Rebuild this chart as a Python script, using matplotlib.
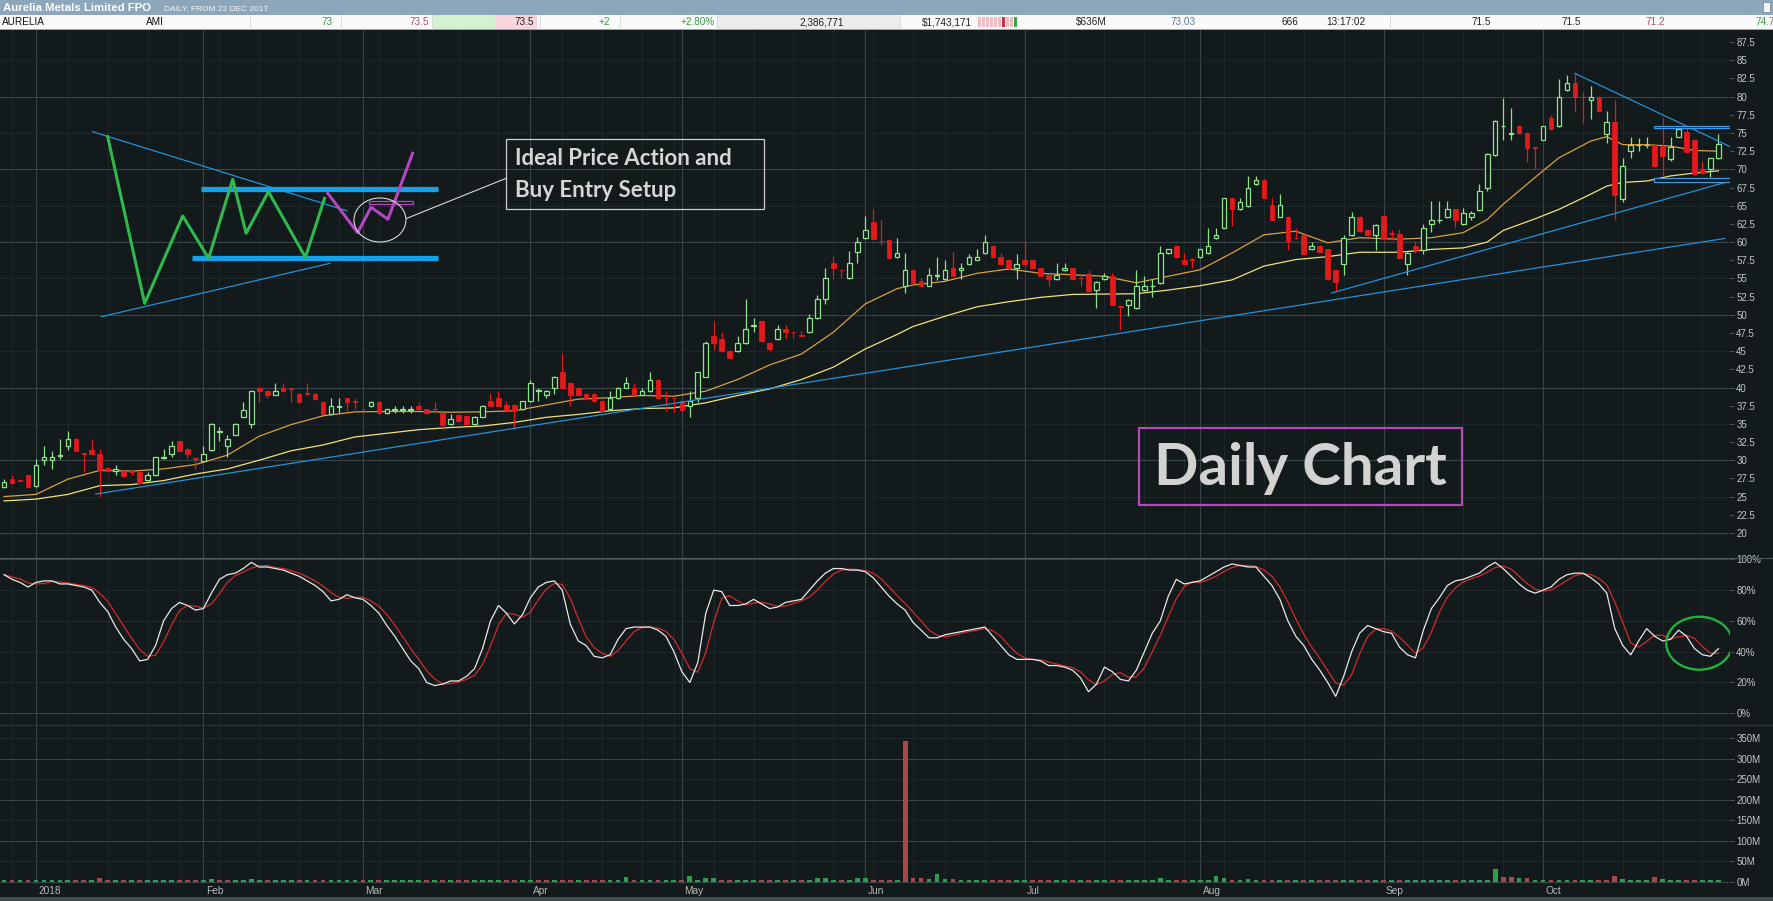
import numpy as np
import pandas as pd
import matplotlib
matplotlib.use("Agg")
import matplotlib.pyplot as plt
from matplotlib.patches import Rectangle, Ellipse
from matplotlib.lines import Line2D
from matplotlib.ticker import FuncFormatter
from matplotlib.transforms import blended_transform_factory

plt.rcParams['font.family'] = ['Liberation Sans', 'DejaVu Sans']

# ------------------------------------------------------------------ data
start_date = '2017-12-22'
end_date = '2018-10-31'
asx_holidays = ['2017-12-25', '2017-12-26', '2018-01-01', '2018-01-26',
                '2018-03-30', '2018-04-02', '2018-04-25', '2018-06-11']

open_ = [26.3,27.4,27.3,27.9,26.4,30.0,30.0,30.6,32.0,32.9,
         31.0,31.4,30.9,28.9,28.5,28.5,28.5,28.4,27.3,27.9,
         30.3,30.9,32.6,31.6,30.3,29.9,31.4,33.9,32.0,33.5,
         36.0,35.0,40.0,39.5,39.0,40.0,39.9,39.1,39.2,39.1,
         38.0,36.4,37.3,38.5,38.1,37.1,37.4,38.0,36.5,36.9,
         36.9,36.9,37.4,37.0,37.1,36.5,35.0,36.2,36.1,35.0,
         36.0,38.1,38.5,37.6,37.6,37.0,38.1,39.5,39.0,40.0,
         42.2,40.6,40.0,39.1,39.1,38.2,37.0,38.5,40.0,40.0,
         39.0,39.5,41.1,38.6,38.6,38.1,37.5,38.5,41.5,47.1,
         46.7,45.0,45.0,46.1,48.5,49.1,46.1,46.7,48.0,47.7,
         47.2,47.6,49.5,52.2,57.1,56.2,55.0,58.6,60.5,62.7,
         60.2,60.3,57.9,54.0,56.1,54.6,54.0,55.4,54.9,56.4,
         56.1,57.0,57.6,58.5,59.5,57.9,57.6,56.4,57.6,57.6,
         56.4,55.5,54.9,56.1,56.4,55.1,55.6,53.4,54.9,55.3,
         51.2,51.4,50.9,53.4,53.9,54.4,58.5,59.5,57.6,57.7,
         57.9,58.5,60.5,62.0,66.0,64.5,64.9,68.0,68.6,65.1,
         63.5,63.5,60.6,61.0,59.0,59.5,59.0,56.1,57.0,61.0,
         63.5,61.6,61.0,63.6,61.2,61.1,57.0,59.5,58.9,62.5,
         63.0,63.4,64.5,62.5,63.4,64.4,67.5,72.0,75.9,74.9,
         76.0,75.0,73.1,74.1,77.0,75.9,80.9,81.9,80.0,79.5,
         80.0,74.9,76.5,65.9,72.5,73.3,73.3,73.4,73.2,71.4,
         74.5,75.1,74.1,70.0,70.0,71.5]
high = [27.4,27.9,27.4,28.0,30.1,31.9,31.2,32.9,34.0,33.0,
        31.0,32.9,31.6,29.0,29.4,28.6,28.6,28.5,28.4,30.5,
        31.5,32.6,32.7,31.7,30.5,32.0,35.1,34.5,33.5,35.1,
        38.0,39.6,40.1,39.6,40.6,40.6,39.9,39.2,40.6,39.2,
        38.1,38.5,38.5,38.6,38.5,37.1,38.1,38.1,37.1,37.5,
        37.5,37.5,38.0,37.1,38.0,36.6,36.4,36.3,36.2,36.1,
        37.6,39.3,39.5,38.2,37.7,38.2,41.1,40.0,39.6,41.6,
        44.8,40.7,40.1,39.2,39.2,38.3,39.5,40.1,41.5,40.6,
        40.0,42.1,41.2,39.5,38.6,38.2,39.5,42.2,46.4,49.2,
        47.6,45.1,47.1,52.2,49.6,49.2,46.2,48.6,48.6,47.7,
        47.8,50.1,52.7,56.5,58.1,56.2,58.8,60.7,63.6,64.5,
        63.1,60.4,60.5,58.5,56.2,55.1,56.4,57.9,57.6,58.6,
        57.1,58.3,59.0,61.0,59.6,58.5,57.7,58.4,60.1,57.7,
        56.5,55.6,57.1,57.1,56.5,55.6,56.2,54.6,55.8,55.8,
        51.3,52.2,56.1,55.4,54.9,59.4,59.1,59.6,58.5,57.8,
        59.1,62.0,62.0,66.1,66.1,66.0,69.1,69.1,68.7,66.0,
        66.6,63.6,61.9,61.1,60.0,59.6,59.1,56.2,61.0,64.1,
        63.6,61.7,62.5,63.7,61.6,61.8,58.6,60.1,62.5,65.6,
        65.6,65.6,64.6,64.7,64.3,68.0,72.2,76.8,79.8,78.4,
        76.1,75.1,73.1,76.0,77.5,82.4,83.0,83.2,80.7,81.4,
        80.1,78.0,79.6,71.6,74.5,74.3,74.5,73.5,77.0,74.5,
        75.6,75.9,74.2,71.1,71.6,74.8]
low = [26.2,26.7,27.1,26.2,26.3,29.3,28.8,30.2,31.4,31.2,
       28.4,30.8,24.9,28.4,27.9,27.7,28.0,26.7,27.2,27.8,
       30.2,30.5,31.2,30.3,28.8,29.8,31.3,32.6,30.5,33.4,
       35.9,34.4,38.0,38.6,38.9,39.4,38.0,37.9,39.0,38.3,
       36.3,36.3,36.5,36.7,37.0,36.8,37.3,36.4,36.4,36.5,
       36.5,36.5,36.9,36.4,36.5,34.1,34.9,35.3,34.9,34.9,
       35.9,37.4,37.4,36.8,34.3,36.9,38.0,38.1,38.5,39.1,
       39.9,37.5,38.9,38.3,38.0,36.7,36.9,38.4,39.9,38.9,
       38.9,39.4,38.4,36.8,36.6,36.8,35.9,38.0,41.4,45.1,
       44.9,43.9,44.9,46.0,47.6,46.3,45.0,46.6,46.7,46.8,
       47.1,47.5,49.4,51.5,54.9,55.0,54.9,57.1,60.4,60.3,
       59.6,57.7,57.8,53.0,54.3,53.9,53.9,54.8,54.8,55.3,
       54.9,56.9,57.5,58.4,57.8,56.9,56.3,54.9,56.9,56.3,
       55.3,53.9,54.8,56.0,54.8,53.9,53.2,50.9,54.8,51.3,
       47.9,49.9,50.8,53.3,52.5,54.3,58.4,57.8,56.9,56.4,
       57.8,58.4,60.4,61.9,62.2,64.4,64.8,67.9,65.9,62.9,
       63.4,58.9,60.4,58.3,58.9,58.6,54.8,53.3,55.5,60.9,
       61.4,60.9,58.9,60.3,60.3,57.7,55.5,58.5,58.4,61.4,
       62.6,63.3,61.9,62.4,63.0,64.3,67.0,71.9,74.1,74.1,
       74.9,71.0,70.0,74.0,75.4,75.8,80.8,77.9,76.4,76.9,
       77.9,73.6,63.1,65.5,71.6,72.5,73.0,70.3,69.1,71.1,
       74.4,72.3,69.2,69.4,69.0,71.4]
close = [27.0,26.8,27.2,26.3,29.4,30.4,30.4,30.7,32.9,31.3,
         30.9,30.9,28.7,28.5,28.8,27.8,28.4,26.8,27.9,30.4,
         30.4,32.0,31.3,30.9,30.2,30.9,35.0,34.0,32.9,35.0,
         36.9,39.5,39.5,39.0,39.5,39.5,39.8,38.0,39.1,38.4,
         36.4,37.4,37.4,38.0,38.0,37.0,38.0,36.5,37.0,37.0,
         37.0,37.0,37.0,36.5,37.0,34.9,35.6,35.4,35.0,36.0,
         37.5,37.5,37.5,36.9,36.8,38.1,40.6,39.6,39.5,41.5,
         40.0,39.0,39.0,38.4,38.1,36.8,38.5,40.0,40.6,39.0,
         39.5,41.1,38.5,38.5,38.5,36.9,38.1,42.1,46.1,46.1,
         45.0,44.0,46.1,48.0,48.6,46.4,45.3,48.0,47.6,47.6,
         47.1,49.5,52.2,55.0,56.4,56.1,57.1,60.0,61.6,60.4,
         60.1,57.8,58.5,56.1,54.4,54.0,55.5,55.5,56.1,55.4,
         56.4,57.9,58.0,60.0,57.9,57.0,56.4,57.0,57.0,56.4,
         55.4,54.9,55.5,56.4,54.9,55.0,53.3,54.5,55.4,51.4,
         51.1,52.1,54.0,54.0,54.0,58.5,59.0,57.9,57.0,57.6,
         59.0,59.5,61.0,66.0,64.5,65.5,67.5,68.6,66.0,63.0,
         65.1,60.1,60.5,58.4,59.5,58.7,54.9,54.5,60.5,63.5,
         61.5,61.0,62.4,60.4,61.1,57.8,58.5,58.9,62.0,63.1,
         63.1,64.5,63.1,64.0,64.0,67.0,72.1,76.7,76.0,75.0,
         75.0,73.0,73.0,75.9,75.5,79.9,81.9,79.9,79.9,79.9,
         78.0,76.5,66.5,70.5,73.4,73.4,73.4,70.4,71.9,73.1,
         75.5,72.4,69.3,69.5,71.5,73.5]
volume_m = [4,3,3,4,5,4,4,4,5,4,
            4,4,8,4,3,3,3,4,4,5,
            4,4,3,3,4,4,6,4,4,5,
            5,6,4,4,4,3,4,3,3,4,
            4,3,3,3,3,3,4,4,3,3,
            3,3,3,3,3,4,3,3,3,3,
            3,4,3,3,4,3,4,3,3,3,
            5,4,3,3,3,4,4,5,12,4,
            4,5,4,3,3,4,14,5,8,8,
            4,3,4,5,3,4,3,4,3,3,
            3,5,10,10,4,3,5,8,8,4,
            4,4,4,342,8,8,6,18,6,7,
            4,4,3,4,3,3,3,4,3,3,
            3,3,4,3,3,4,4,3,4,3,
            4,3,4,4,3,8,4,4,3,4,
            3,4,14,8,5,4,6,4,5,4,
            4,3,4,5,4,4,4,3,4,3,
            4,3,4,4,3,4,3,4,5,3,
            4,3,3,4,4,4,5,32,11,11,
            8,8,4,3,4,3,5,4,4,3,
            4,4,14,7,4,3,3,12,6,4,
            3,4,3,4,3,4]
stoch_k = [90,87,85,82,85,86,86,84,84,83,
           82,80,72,66,56,48,42,34,35,44,
           60,68,72,70,67,68,78,87,90,91,
           94,98,95,95,94,93,91,89,86,83,
           79,73,74,77,75,74,70,65,57,50,
           42,34,29,20,18,19,21,21,24,29,
           42,60,70,65,58,64,75,82,85,86,
           80,58,47,44,37,36,38,48,55,56,
           56,56,54,50,40,27,20,33,65,80,
           79,70,70,71,74,71,68,69,72,73,
           74,80,86,91,94,94,93,93,92,88,
           82,76,71,67,59,54,49,49,51,52,
           53,54,55,56,50,44,38,35,35,35,
           34,31,31,30,28,23,14,19,30,27,
           22,21,28,40,52,60,76,87,84,85,
           86,89,92,95,97,96,95,95,89,83,
           74,60,50,44,35,28,20,11,24,40,
           52,57,55,53,52,43,38,36,54,68,
           75,83,86,87,89,91,95,98,94,89,
           84,80,78,80,82,87,90,91,91,88,
           84,78,55,44,38,47,55,50,47,48,
           54,50,42,38,37,42]

# moving averages (candle index, value)
ma_idx = [0,4,8,12,16,20,24,28,32,36,40,44,48,52,56,60,64,68,72,76,80,84,88,92,96,100,104,108,112,
          114,118,122,126,130,134,138,142,146,150,154,158,162,166,170,
          175,179,183,186,188,192,195,199,201,203,206,209,212,215]
ma_fast = [25.0,25.3,27.4,28.6,28.5,28.8,29.4,30.7,33.3,34.9,36.1,36.65,36.7,36.7,36.6,36.65,36.8,37.6,38.4,38.6,38.9,38.8,39.5,41.1,43.1,44.6,47.6,51.5,53.6,
           54.1,54.6,55.7,56.3,55.7,55.5,55.3,54.4,55.3,56.2,58.5,61.0,61.5,59.9,60.6,
           60.4,60.6,61.3,63.1,65.2,68.9,71.6,73.9,74.5,73.4,73.4,73.2,72.6,72.5]
ma_slow = [24.4,24.65,25.3,26.5,26.65,27.2,28.1,28.8,30.0,31.3,32.1,33.2,33.7,34.2,34.5,34.7,35.2,35.9,36.3,36.8,37.1,37.2,37.9,38.9,39.8,41.1,42.8,45.3,47.3,
           48.4,49.8,51.1,51.8,52.4,52.8,52.85,52.9,53.4,54.0,54.8,56.7,57.6,58.0,58.6,
           58.6,59.0,59.2,60.0,61.6,63.2,64.5,66.6,67.7,68.2,68.4,69.1,69.5,69.8]

# trendlines drawn on the chart (candle index, price)
trend_long = ([11.5, 215.8], [25.35, 60.5])
trend_mid = ([166.5, 216.8], [53.0, 68.5])
trend_down = ([197.0, 216.9], [83.2, 72.9])
range_top = (206.9, 217.1, 75.7, 76.0)
range_bot = (206.9, 217.1, 68.3, 68.8)

# schematic sketch (candle index, price)
sketch_green_x = [12.99, 17.63, 22.40, 25.65, 28.67, 30.35, 33.15, 37.79, 40.19]
sketch_green_y = [74.50, 51.58, 63.59, 57.77, 68.64, 61.21, 66.93, 57.91, 66.02]
sketch_mag_x = [40.59, 44.34, 46.02, 48.14, 51.23]
sketch_mag_y = [66.71, 61.29, 64.79, 63.14, 72.21]
sketch_res = ([24.74, 54.41], [67.30, 67.30])
sketch_sup = ([23.51, 54.41], [57.77, 57.77])
sketch_down = ([11.09, 43.0], [75.19, 64.3])
sketch_up = ([12.20, 40.87], [49.74, 57.08])

title_main = 'Aurelia Metals Limited FPO'
title_sub = 'DAILY, FROM 22 DEC 2017'
quote_texts = ['AURELIA', 'AMI', '73', '73.5', '73.5', '+2', '+2.80%', '2,386,771',
               '$1,743,171', '$636M', '73.03', '666', '13:17:02', '71.5', '71.5', '71.2', '74.7']

# ------------------------------------------------------------------ prep
o = np.array(open_); h = np.array(high); l = np.array(low); c = np.array(close)
vol = np.array(volume_m, dtype=float)
k = pd.Series(stoch_k, dtype=float)
d = k.rolling(3, min_periods=1).mean()
dates = pd.bdate_range(start_date, end_date)
dates = dates[~dates.isin(pd.to_datetime(asx_holidays))]
n = len(dates)
idx = np.arange(n)

week_start = [i for i in range(1, n) if dates[i].isocalendar()[1] != dates[i - 1].isocalendar()[1]]
month_start = [i for i in range(1, n) if dates[i].month != dates[i - 1].month]
month_lbl = ['2018' if dates[i].month == 1 else dates[i].strftime('%b') for i in month_start]

BG = '#121a1c'
MAJ = '#39434a'
MIN = '#1f292c'
GREEN = '#8fe38a'
RED = '#e3191c'
TXT = '#c6c6c6'
BLUE = '#2591d8'

W, H = 1774, 901
fig = plt.figure(figsize=(W / 100, H / 100), dpi=100, facecolor=BG)

def fy(y_px):
    return 1 - y_px / H

xlo, xhi = -0.514, 216.45
axw = 1730 / W

ax_p = fig.add_axes([0, fy(558), axw, (558 - 30) / H])
ax_s = fig.add_axes([0, fy(725), axw, (725 - 558) / H])
ax_v = fig.add_axes([0, fy(884), axw, (884 - 725) / H])

for ax in (ax_p, ax_s, ax_v):
    ax.set_facecolor(BG)
    for s in ax.spines.values():
        s.set_visible(False)
    ax.set_xlim(xlo, xhi)
    ax.tick_params(axis='x', length=0, labelbottom=False)
    ax.yaxis.tick_right()
    ax.tick_params(axis='y', direction='out', length=3, width=0.6, color='#5a646a',
                   pad=1.5, labelsize=7, labelcolor=TXT)
    for i in week_start:
        if i not in month_start:
            ax.axvline(i, color=MIN, lw=0.7, zorder=0)
    for i in month_start:
        ax.axvline(i, color=MAJ, lw=0.8, zorder=0)

# ---------------- price panel
ax_p.set_ylim(16.55, 89.17)
pt = np.arange(20, 88.0, 2.5)
ax_p.set_yticks(pt)
ax_p.yaxis.set_major_formatter(FuncFormatter(lambda v, p: f'{v:g}'))
for v in np.arange(20, 90, 5):
    ax_p.axhline(v, color=MAJ if v % 10 == 0 else MIN, lw=0.8 if v % 10 == 0 else 0.7, zorder=0)

ax_p.plot(ma_idx, ma_fast, color='#d9a040', lw=0.9, zorder=2)
ax_p.plot(ma_idx, ma_slow, color='#efe27a', lw=0.9, zorder=2)

up = c >= o
ax_p.vlines(idx, l, h, colors=np.where(up, GREEN, RED), lw=0.9, zorder=3)
body_up = np.maximum(c - o, 0.06)
body_dn = np.maximum(o - c, 0.06)
ax_p.bar(idx[up], body_up[up], bottom=o[up], width=0.58, facecolor=BG,
         edgecolor=GREEN, linewidth=0.9, zorder=4)
ax_p.bar(idx[~up], body_dn[~up], bottom=c[~up], width=0.58, facecolor=RED,
         edgecolor=RED, linewidth=0.6, zorder=4)

# trendlines
for tx, ty in (trend_long, trend_mid, trend_down):
    ax_p.plot(tx, ty, color=BLUE, lw=0.9, zorder=5)
for (x0, x1, y0, y1) in (range_top, range_bot):
    ax_p.add_patch(Rectangle((x0, y0), x1 - x0, y1 - y0, facecolor=BG,
                             edgecolor='#3a9ae6', lw=0.9, zorder=5))

# schematic
ax_p.plot(*sketch_down, color=BLUE, lw=0.9, zorder=5)
ax_p.plot(*sketch_up, color=BLUE, lw=0.9, zorder=5)
ax_p.plot(*sketch_res, color='#14a2ea', lw=3.8, solid_capstyle='butt', zorder=5)
ax_p.plot(*sketch_sup, color='#14a2ea', lw=3.8, solid_capstyle='butt', zorder=5)
ax_p.plot(sketch_green_x, sketch_green_y, color='#2fb84c', lw=2.2, zorder=6)
ax_p.plot(sketch_mag_x, sketch_mag_y, color='#b546c2', lw=2.2, zorder=6)
ax_p.add_patch(Rectangle((45.80, 65.20), 5.43, 0.45, facecolor='none',
                         edgecolor='#b546c2', lw=0.9, zorder=6))
ax_p.add_patch(Ellipse((47.14, 63.04), 6.52, 6.05, facecolor='none',
                       edgecolor='#d8d8d8', lw=0.8, zorder=6))
ax_p.plot([50.50, 62.98], [63.27, 68.78], color='#d8d8d8', lw=0.8, zorder=6)
ax_p.add_patch(Rectangle((62.98, 64.51), 32.37, 9.63, facecolor='none',
                         edgecolor='#cfcfcf', lw=0.9, zorder=6))
ax_p.text(64.07, 70.61, 'Ideal Price Action and', fontsize=16, fontweight='bold',
          family=['Lato', 'DejaVu Sans'], color='#d6d6d6', ha='left', va='baseline', zorder=7)
ax_p.text(64.07, 66.25, 'Buy Entry Setup', fontsize=16, fontweight='bold',
          family=['Lato', 'DejaVu Sans'], color='#d6d6d6', ha='left', va='baseline', zorder=7)

ax_p.add_patch(Rectangle((142.3, 23.83), 40.5, 10.59, facecolor='none',
                         edgecolor='#b04ab8', lw=1.6, zorder=6))
ax_p.text(162.55, 26.53, 'Daily Chart', fontsize=42, fontweight='bold',
          family=['Lato', 'DejaVu Sans'], color='#d2d2d2', ha='center', va='baseline', zorder=7)

# ---------------- stochastic panel
ax_s.set_ylim(-7.6, 100.84)
ax_s.set_yticks(np.arange(0, 101, 20))
ax_s.yaxis.set_major_formatter(FuncFormatter(lambda v, p: f'{int(v)}%'))
for v in range(0, 101, 20):
    ax_s.axhline(v, color=MAJ if v in (0, 100) else MIN, lw=0.8, zorder=0)
ax_s.plot(idx, d, color='#d32a2a', lw=0.9, zorder=3)
ax_s.plot(idx, k, color='#e8e8e8', lw=0.9, zorder=4)
ax_s.add_patch(Ellipse((212.6, 45.5), 8.3, 34.4, facecolor='none',
                       edgecolor='#24b03a', lw=1.7, zorder=5))

# ---------------- volume panel
ax_v.set_ylim(-5.6, 381.6)
ax_v.set_yticks(np.arange(0, 351, 50))
ax_v.yaxis.set_major_formatter(FuncFormatter(lambda v, p: f'{int(v)}M'))
for v in range(0, 351, 50):
    ax_v.axhline(v, color=MAJ if v % 100 == 0 else MIN, lw=0.8, zorder=0)
prev = np.concatenate([[c[0] - 1], c[:-1]])
vcol = np.where(c >= prev, '#2e9e4c', '#a84848')
ax_v.bar(idx, vol, width=0.6, color=vcol, zorder=3)

tr = blended_transform_factory(ax_v.transData, ax_v.transAxes)
for i, lb in zip(month_start, month_lbl):
    ax_v.text(i + 0.3, -0.045, lb, transform=tr, fontsize=7.3, color='#b8b8b8',
              ha='left', va='center', clip_on=False)

# panel dividers / bottom border
fig.add_artist(Line2D([0, 1], [fy(558), fy(558)], color='#4f595e', lw=0.8))
fig.add_artist(Line2D([0, 1], [fy(725), fy(725)], color='#2c3538', lw=0.8))
fig.add_artist(Rectangle((0, 0), 1, 4 / H, transform=fig.transFigure,
                         facecolor='#454d52', edgecolor='none'))

# ---------------- header
ax_h = fig.add_axes([0, fy(30), 1, 30 / H])
ax_h.set_xlim(0, W)
ax_h.set_ylim(30, 0)
ax_h.axis('off')
ax_h.add_patch(Rectangle((0, 0), W, 15, facecolor='#8ca7bc', edgecolor='none'))
ax_h.add_patch(Rectangle((0, 15), W, 15, facecolor='#fafafa', edgecolor='none'))
ax_h.add_patch(Rectangle((0, 29.3), W, 0.7, facecolor='#9aa4aa', edgecolor='none'))
ax_h.text(3, 8, title_main, fontsize=8.2, fontweight='bold', color='white',
          ha='left', va='center')
ax_h.text(164, 8.6, title_sub, fontsize=6.0, color='#f4f6f8', ha='left', va='center')
ax_h.add_patch(Rectangle((1763, 2), 7, 10, facecolor='#f4f4f4', edgecolor='#70889a', lw=0.5))

ax_h.add_patch(Rectangle((432, 15), 63, 14.3, facecolor='#d4f1d2', edgecolor='none'))
ax_h.add_patch(Rectangle((495, 15), 42, 14.3, facecolor='#f6d6da', edgecolor='none'))
ax_h.add_patch(Rectangle((717, 15), 183, 14.3, facecolor='#ececec', edgecolor='none'))
for sx in (250, 341, 432, 540, 620, 717, 900, 1390):
    ax_h.plot([sx, sx], [15, 29.3], color='#d6d6d6', lw=0.6)
# mini bar strip next to value traded
for j in range(10):
    col = '#f0bcc4'
    if j == 6:
        col = '#c8344a'
    if j == 9:
        col = '#35a84a'
    ax_h.add_patch(Rectangle((978 + j * 4, 17), 3, 10, facecolor=col, edgecolor='none'))

quote_x = [2, 146, 333, 429, 534, 610, 715, 844, 972, 1107, 1196, 1298, 1365, 1491, 1581, 1665, 1775]
quote_ha = ['left', 'left'] + ['right'] * 15
quote_col = ['#111111', '#111111', '#3a9a46', '#b0506a', '#222222', '#3a9a46', '#3a9a46',
             '#222222', '#222222', '#222222', '#5d7d99', '#222222', '#222222', '#222222',
             '#222222', '#b0506a', '#3a9a46']
for t, x, ha, col in zip(quote_texts, quote_x, quote_ha, quote_col):
    ax_h.text(x, 22.3, t, fontsize=7.2, color=col, ha=ha, va='center')

fig.savefig('out.png', dpi=100, facecolor=BG)
